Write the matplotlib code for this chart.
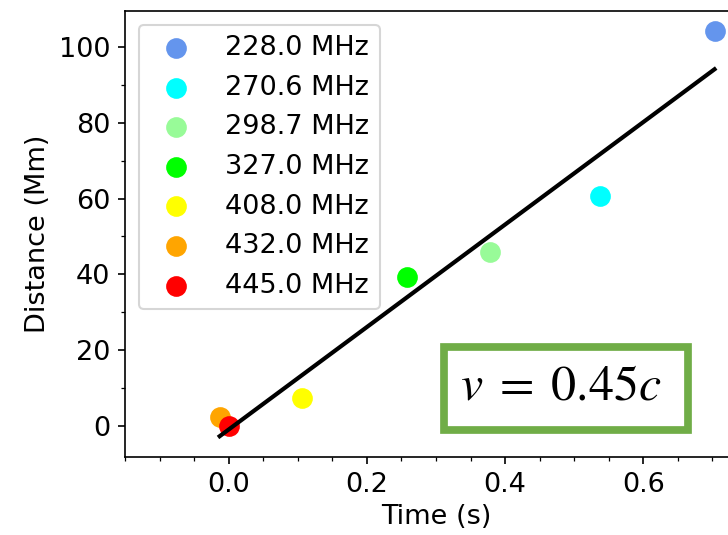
import numpy as np
import matplotlib
matplotlib.use("Agg")
import matplotlib.pyplot as plt
from matplotlib.ticker import MultipleLocator
from matplotlib.patches import Rectangle

freqs = [228.0, 270.6, 298.7, 327.0, 408.0, 432.0, 445.0]
times = [0.703, 0.538, 0.378, 0.258, 0.106, -0.013, 0.0]
dists = [104.2, 60.6, 45.8, 39.2, 7.4, 2.4, 0.0]
colors = ['cornflowerblue', 'cyan', 'palegreen', 'lime', 'yellow', 'orange', 'red']

plt.rcParams['font.size'] = 13
plt.rcParams['mathtext.fontset'] = 'stix'

fig = plt.figure(figsize=(728/150, 535/150), dpi=150)
ax = fig.add_axes([125/728, 78/535, 622/728, 446/535])

for f, t, d, c in zip(freqs, times, dists, colors):
    ax.scatter(t, d, s=80, color=c, label='%.1f MHz' % f)

# linear fit -> speed
p = np.polyfit(times, dists, 1)
tt = np.array([min(times), max(times)])
ax.plot(tt, np.polyval(p, tt), 'k-', lw=2)

ax.set_xlim(-0.15, 0.75)
ax.set_ylim(-8.3, 109.6)
ax.xaxis.set_major_locator(MultipleLocator(0.2))
ax.xaxis.set_minor_locator(MultipleLocator(0.05))
ax.yaxis.set_major_locator(MultipleLocator(20))
ax.yaxis.set_minor_locator(MultipleLocator(10))
ax.set_xlabel('Time (s)', labelpad=3)
ax.set_ylabel('Distance (Mm)')
ax.legend(loc='upper left')

# speed box
fig.patches.append(Rectangle((444/728, 1 - 430/535), 244/728, 83/535,
                             transform=fig.transFigure, facecolor='white',
                             edgecolor='#70AD47', lw=3.7, zorder=5))
fig.text(460/728, 1 - 386/535, r'$v\;=\;0.45c$', fontsize=24,
         ha='left', va='center', zorder=6)

fig.savefig('out.png', dpi=150)
